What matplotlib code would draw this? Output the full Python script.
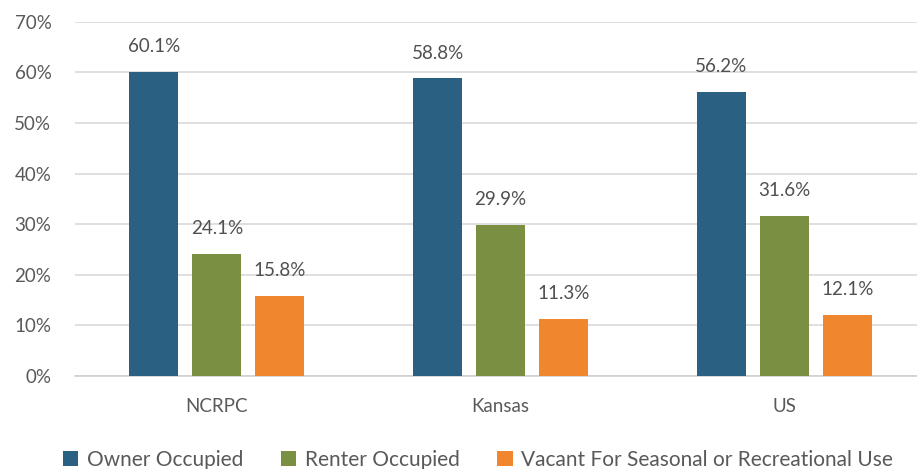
import matplotlib.pyplot as plt
import numpy as np

regions = ['NCRPC', 'Kansas', 'US']
series_names = ['Owner Occupied', 'Renter Occupied', 'Vacant For Seasonal or Recreational Use']
owner = [60.1, 58.8, 56.2]
renter = [24.1, 29.9, 31.6]
vacant = [15.8, 11.3, 12.1]
colors = ['#2A6183', '#7A8F42', '#F0862E']

plt.rcParams['font.family'] = ['Lato', 'DejaVu Sans']
text_col = '#595959'

fig = plt.figure(figsize=(9.17, 4.69), dpi=100)
ax = fig.add_axes([75 / 917, 93 / 469, 842 / 917, (376 - 21.7) / 469])

x = np.arange(len(regions))
width = 0.173
step = 0.222
for i, (vals, name) in enumerate(zip([owner, renter, vacant], series_names)):
    pos = x + (i - 1) * step
    bars = ax.bar(pos, vals, width, color=colors[i], label=name, zorder=3)
    for b, v in zip(bars, vals):
        ax.annotate(f'{v:.1f}%', (b.get_x() + b.get_width() / 2, v),
                    xytext=(0, 12), textcoords='offset points',
                    ha='center', va='bottom', fontsize=13.5, color='#505050')

ax.set_ylim(0, 70)
ax.set_xlim(-0.5, 2.5 - 9 / 283.5)
ax.set_yticks(range(0, 71, 10))
ax.set_yticklabels([f'{t}%' for t in range(0, 71, 10)])
ax.set_xticks(x)
ax.set_xticklabels(regions)
ax.tick_params(axis='both', length=0, labelsize=13.5, colors=text_col)
ax.tick_params(axis='x', pad=16)
ax.tick_params(axis='y', pad=17)

ax.grid(axis='y', color='#D9D9D9', linewidth=1.2, zorder=0)
for s in ['top', 'right', 'left']:
    ax.spines[s].set_visible(False)
ax.spines['bottom'].set_color('#D0D0D0')
ax.spines['bottom'].set_linewidth(1.2)

fig.legend(loc='center', bbox_to_anchor=(0.521, 0.019), ncol=3, frameon=False,
           fontsize=15, handlelength=0.75, handleheight=0.75, handletextpad=0.4,
           columnspacing=1.8, labelcolor=text_col)

fig.savefig('out.png', dpi=100)
